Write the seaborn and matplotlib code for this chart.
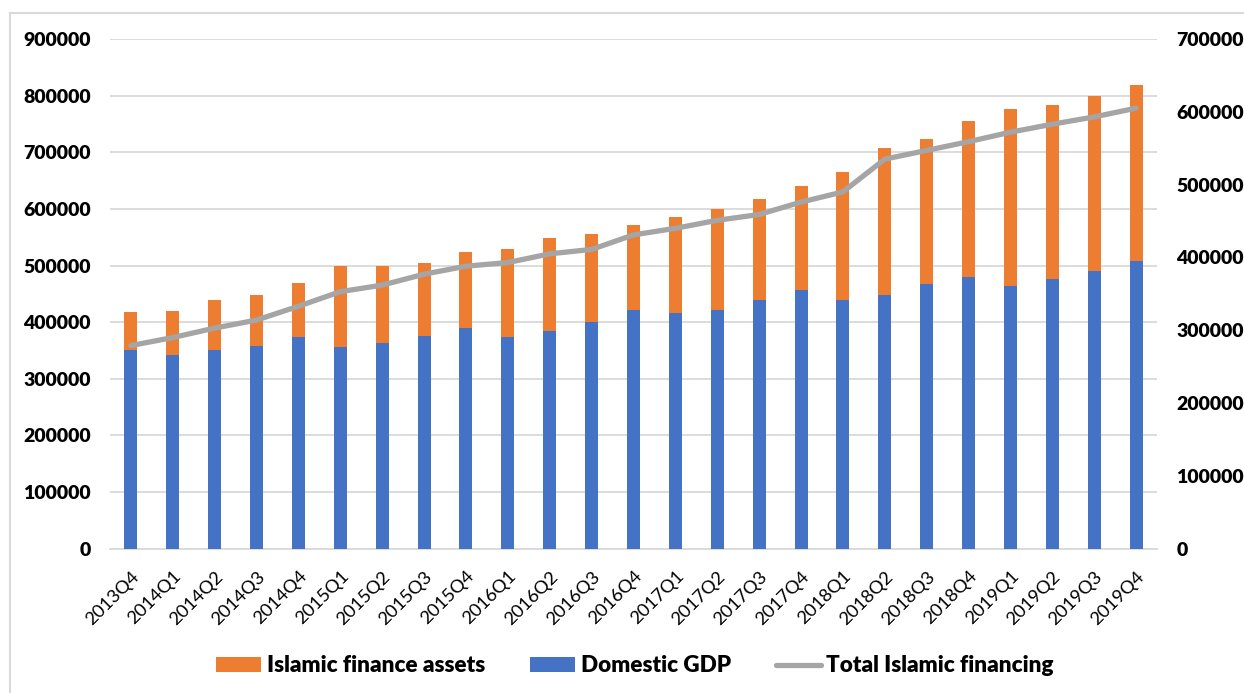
import numpy as np
import pandas as pd
import matplotlib
matplotlib.use("Agg")
import matplotlib.pyplot as plt
from matplotlib.patches import Patch, Rectangle
from matplotlib.lines import Line2D
from matplotlib.ticker import MultipleLocator
import seaborn as sns

quarters = [
    "2013Q4",
    "2014Q1", "2014Q2", "2014Q3", "2014Q4",
    "2015Q1", "2015Q2", "2015Q3", "2015Q4",
    "2016Q1", "2016Q2", "2016Q3", "2016Q4",
    "2017Q1", "2017Q2", "2017Q3", "2017Q4",
    "2018Q1", "2018Q2", "2018Q3", "2018Q4",
    "2019Q1", "2019Q2", "2019Q3", "2019Q4",
]
islamic_finance_assets = [
    418000, 420000, 439000, 448000, 469000, 499000, 500000, 505000, 524000,
    529000, 549000, 555000, 572000, 585000, 599000, 617000, 641000, 665000,
    707000, 723000, 755000, 776000, 783000, 799000, 818000,
]
domestic_gdp = [
    350000, 342000, 350000, 358000, 373000, 356000, 364000, 376000, 390000,
    374000, 384000, 400000, 422000, 416000, 422000, 440000, 457000, 440000,
    448000, 467000, 480000, 464000, 476000, 490000, 508000,
]
total_islamic_financing = [
    279000, 290000, 303000, 314000, 333000, 353000, 362000, 377000, 388000,
    393000, 405000, 411000, 431000, 440000, 451000, 459000, 476000, 490000,
    535000, 547000, 559000, 572000, 583000, 593000, 605000,
]

df = pd.DataFrame({
    "quarter": quarters,
    "assets": islamic_finance_assets,
    "gdp": domestic_gdp,
    "financing": total_islamic_financing,
})

ORANGE = "#ED7D31"
BLUE = "#4472C4"
GRAY = "#A5A5A5"
GRID = "#D9D9D9"

sns.set_theme(style="white")
plt.rcParams["font.family"] = ["Lato", "DejaVu Sans"]
plt.rcParams["text.color"] = "black"
plt.rcParams["xtick.color"] = "black"
plt.rcParams["ytick.color"] = "black"

fig = plt.figure(figsize=(12.44, 6.93), dpi=100)
ax = fig.add_axes([110 / 1244, 1 - 548.7 / 693, (1157 - 110) / 1244, (548.7 - 39) / 693])

# chart border
fig.patches.append(Rectangle((10 / 1244, -0.2), 1.2, 1.2 - 13 / 693,
                             transform=fig.transFigure, fill=False,
                             edgecolor="#D9D9D9", linewidth=1.5, zorder=0))

sns.barplot(data=df, x="quarter", y="assets", color=ORANGE, width=0.31,
            linewidth=0, saturation=1, ax=ax, zorder=2)
sns.barplot(data=df, x="quarter", y="gdp", color=BLUE, width=0.31,
            linewidth=0, saturation=1, ax=ax, zorder=3)

ax.set_ylim(0, 900000)
ax.yaxis.set_major_locator(MultipleLocator(100000))
ax.set_xlim(-0.5, len(quarters) - 0.5)
ax.grid(axis="y", color=GRID, linewidth=1.3, zorder=0)
ax.set_axisbelow(True)
for s in ["top", "right", "left"]:
    ax.spines[s].set_visible(False)
ax.spines["bottom"].set_color(GRID)
ax.spines["bottom"].set_linewidth(1.3)
ax.set_xlabel("")
ax.set_ylabel("")
ax.tick_params(axis="y", length=0, pad=14, labelsize=14, labelcolor="black")
ax.tick_params(axis="x", length=0, pad=14, labelsize=13.2, labelcolor="black")
for lbl in ax.get_yticklabels():
    lbl.set_fontweight("heavy")
plt.setp(ax.get_xticklabels(), rotation=45, ha="right", rotation_mode="anchor")

ax2 = ax.twinx()
sns.lineplot(x=np.arange(len(quarters)), y=df["financing"], color=GRAY,
             linewidth=3.8, ax=ax2, zorder=4)
ax2.set_ylim(0, 700000)
ax2.yaxis.set_major_locator(MultipleLocator(100000))
ax2.set_xlim(-0.5, len(quarters) - 0.5)
for s in ["top", "right", "left", "bottom"]:
    ax2.spines[s].set_visible(False)
ax2.set_ylabel("")
ax2.grid(False)
ax2.tick_params(axis="y", length=0, pad=14, labelsize=14, labelcolor="black")
for lbl in ax2.get_yticklabels():
    lbl.set_fontweight("heavy")

handles = [
    Patch(facecolor=ORANGE, edgecolor="none", label="Islamic finance assets"),
    Patch(facecolor=BLUE, edgecolor="none", label="Domestic GDP"),
    Line2D([0], [0], color=GRAY, linewidth=3.8, label="Total Islamic financing"),
]
fig.legend(handles=handles, loc="center", bbox_to_anchor=(635 / 1244, 1 - 666 / 693),
           ncol=3, frameon=False, prop={"weight": "heavy", "size": 16.2},
           handlelength=2.0, handleheight=0.62, handletextpad=0.25, columnspacing=2.0,
           labelcolor="black")

fig.savefig("out.png", dpi=100)
